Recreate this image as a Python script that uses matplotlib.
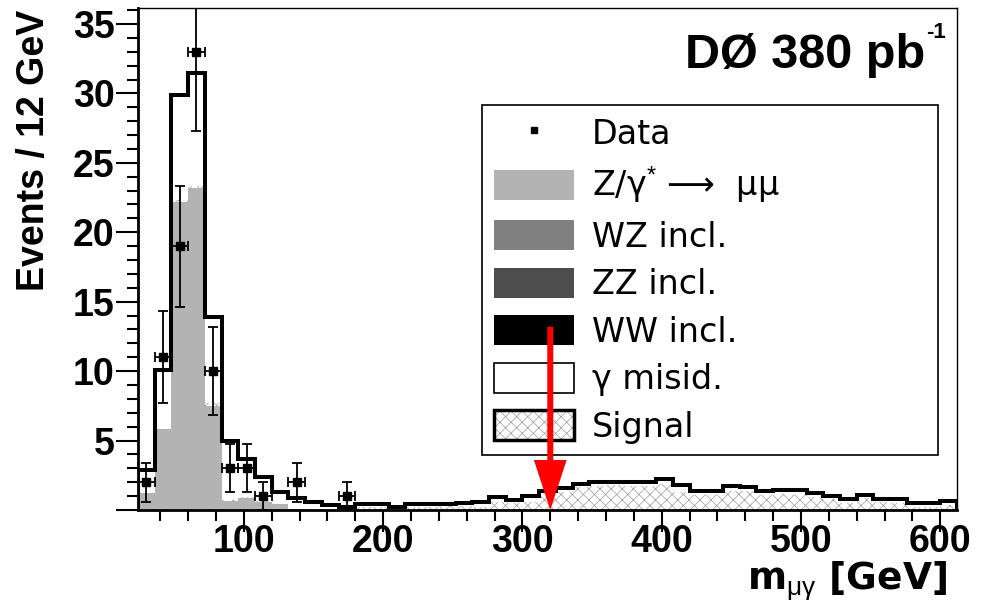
import numpy as np
import matplotlib.pyplot as plt
from matplotlib.patches import Patch
from matplotlib.lines import Line2D
from matplotlib.ticker import MultipleLocator

plt.rcParams['font.family'] = ['Liberation Sans', 'DejaVu Sans']
plt.rcParams['mathtext.fontset'] = 'custom'
plt.rcParams['mathtext.rm'] = 'Liberation Sans'
plt.rcParams['mathtext.it'] = 'Liberation Sans:italic'
plt.rcParams['mathtext.bf'] = 'Liberation Sans:bold'
plt.rcParams['hatch.linewidth'] = 0.5

# --- binning: 12 GeV bins from 24 to 612 GeV ---
BIN_LO = 24
BIN_W = 12
N_BINS = 49
edges = BIN_LO + BIN_W * np.arange(N_BINS + 1)

# --- stacked expectation ---
total_expected = [2.9, 10.1, 29.9, 31.5, 13.9, 4.95, 3.65, 2.4, 1.3, 0.85,
                  0.55, 0.36, 0.19, 0.45, 0.45, 0.25, 0.42, 0.42, 0.45, 0.5,
                  0.6, 0.96, 0.75, 1.0, 1.4, 1.6, 1.9, 2.05, 2.05, 2.0,
                  2.0, 2.2, 1.8, 1.35, 1.35, 1.7, 1.65, 1.4, 1.45, 1.45,
                  1.25, 1.0, 0.77, 1.08, 0.8, 0.77, 0.5, 0.48, 0.67]

z_gamma_mumu = [1.2, 5.8, 22.2, 23.2, 7.5, 0.65, 0.9, 0.6, 0.4, 0.05,
                0, 0, 0, 0, 0, 0, 0, 0, 0, 0,
                0, 0, 0, 0, 0, 0, 0, 0, 0, 0,
                0, 0, 0, 0, 0, 0, 0, 0, 0, 0,
                0, 0, 0, 0, 0, 0, 0, 0, 0]

signal = [0.02, 0.05, 0.1, 0.1, 0.2, 0.1, 0.05, 0.05, 0.05, 0.05,
          0.05, 0.05, 0.08, 0.25, 0.25, 0.1, 0.25, 0.25, 0.28, 0.3,
          0.25, 0.6, 0.5, 0.6, 1.0, 1.3, 1.65, 1.7, 1.8, 1.7,
          1.7, 1.87, 1.3, 1.08, 1.08, 1.39, 1.35, 1.08, 1.15, 1.08,
          0.96, 0.77, 0.5, 0.84, 0.55, 0.5, 0.24, 0.24, 0.36]

# --- observed data (non-empty bins only) ---
data_mass = [30, 42, 54, 66, 78, 90, 102, 114, 138, 174]
data_counts = [2, 11, 19, 33, 10, 3, 3, 1, 2, 1]
data_err = [1.41, 3.32, 4.36, 5.74, 3.16, 1.73, 1.73, 1.0, 1.41, 1.0]

cut_value = 320      # GeV, position of the red arrow
arrow_top = 13.2

z_arr = np.array(z_gamma_mumu)
sig_top = z_arr + np.array(signal)

fig = plt.figure(figsize=(9.92, 6.01), dpi=100)
ax = fig.add_axes([0.1391, 0.1514, 0.8256, 0.8353])

# stack: Z/gamma* -> mumu, signal, gamma misid on top
ax.stairs(z_arr, edges, baseline=0, fill=True, color='#b3b3b3', lw=0, zorder=1)
ax.stairs(sig_top, edges, baseline=z_arr, fill=True, facecolor='white',
          edgecolor='#9a9a9a', hatch='xxx', lw=0, zorder=1)
ax.stairs(total_expected, edges, baseline=sig_top, fill=True, color='white',
          lw=0, zorder=1)
ax.stairs(total_expected, edges, baseline=0, fill=False, color='black',
          lw=2.9, zorder=2)

ax.errorbar(data_mass, data_counts, yerr=data_err, xerr=BIN_W / 2, fmt='s',
            color='black', markersize=5.5, elinewidth=1.3, capsize=3.5,
            capthick=1.3, zorder=4)

ax.arrow(cut_value, arrow_top, 0, -arrow_top, width=4.3, head_width=23.5,
         head_length=3.6, length_includes_head=True, color='red', lw=0,
         zorder=7)

ax.set_xlim(edges[0], edges[-1])
ax.set_ylim(0, 36.15)

ax.set_xticks([100, 200, 300, 400, 500, 600])
ax.xaxis.set_minor_locator(MultipleLocator(20))
ax.set_yticks(range(0, 36, 5))
ax.set_yticklabels([''] + [str(v) for v in range(5, 36, 5)])
ax.yaxis.set_minor_locator(MultipleLocator(1))
ax.tick_params(which='major', direction='out', length=16, width=1.5,
               labelsize=27)
ax.tick_params(axis='x', which='major', pad=-6)
ax.tick_params(axis='y', which='major', pad=1)
ax.tick_params(which='minor', direction='out', length=8, width=1.5)
for lab in ax.get_xticklabels() + ax.get_yticklabels():
    lab.set_fontweight('bold')

for side in ['left', 'bottom']:
    ax.spines[side].set_linewidth(2)
for side in ['top', 'right']:
    ax.spines[side].set_linewidth(1)

# legend
handles = [
    Line2D([], [], marker='s', color='black', linestyle='none', markersize=5),
    Patch(facecolor='#b3b3b3', edgecolor='none'),
    Patch(facecolor='#808080', edgecolor='none'),
    Patch(facecolor='#4d4d4d', edgecolor='none'),
    Patch(facecolor='black', edgecolor='none'),
    Patch(facecolor='white', edgecolor='black', linewidth=1.2),
    (Patch(facecolor='white', edgecolor='#9a9a9a', hatch='xxx', linewidth=0),
     Patch(facecolor='none', edgecolor='black', linewidth=2.5)),
]
labels = ['Data', 'Z/γ$^{*}$ ⟶  μμ', 'WZ incl.', 'ZZ incl.', 'WW incl.',
          'γ misid.', 'Signal']
leg = ax.legend(handles, labels, loc='upper left',
                bbox_to_anchor=(0.42, 0.123, 0.557, 0.683), mode='expand',
                borderaxespad=0, borderpad=0.35, labelspacing=0.42,
                handlelength=2.4, handleheight=1.02, handletextpad=0.55,
                fancybox=False, framealpha=1, edgecolor='black',
                prop={'family': 'DejaVu Sans', 'size': 24})
leg.get_frame().set_linewidth(1.2)
leg.set_zorder(5)

fig.text(925 / 992, 1 - 68 / 601, 'DØ 380 pb', ha='right',
         va='baseline', fontsize=35, fontweight='bold')
fig.text(926 / 992, 1 - 22 / 601, '-1', ha='left', va='top',
         fontsize=16, fontweight='bold')
fig.text(34 / 992, 1 - 10 / 601, 'Events / 12 GeV', rotation=90, ha='center',
         va='top', fontsize=27, fontweight='bold')
fig.text(947 / 992, 1 - 589 / 601, 'm$_{\\mathrm{\\mu\\gamma}}$ [GeV]',
         ha='right', va='baseline', fontsize=27, fontweight='bold',
         family='DejaVu Sans')

fig.savefig('out.png', dpi=100)
